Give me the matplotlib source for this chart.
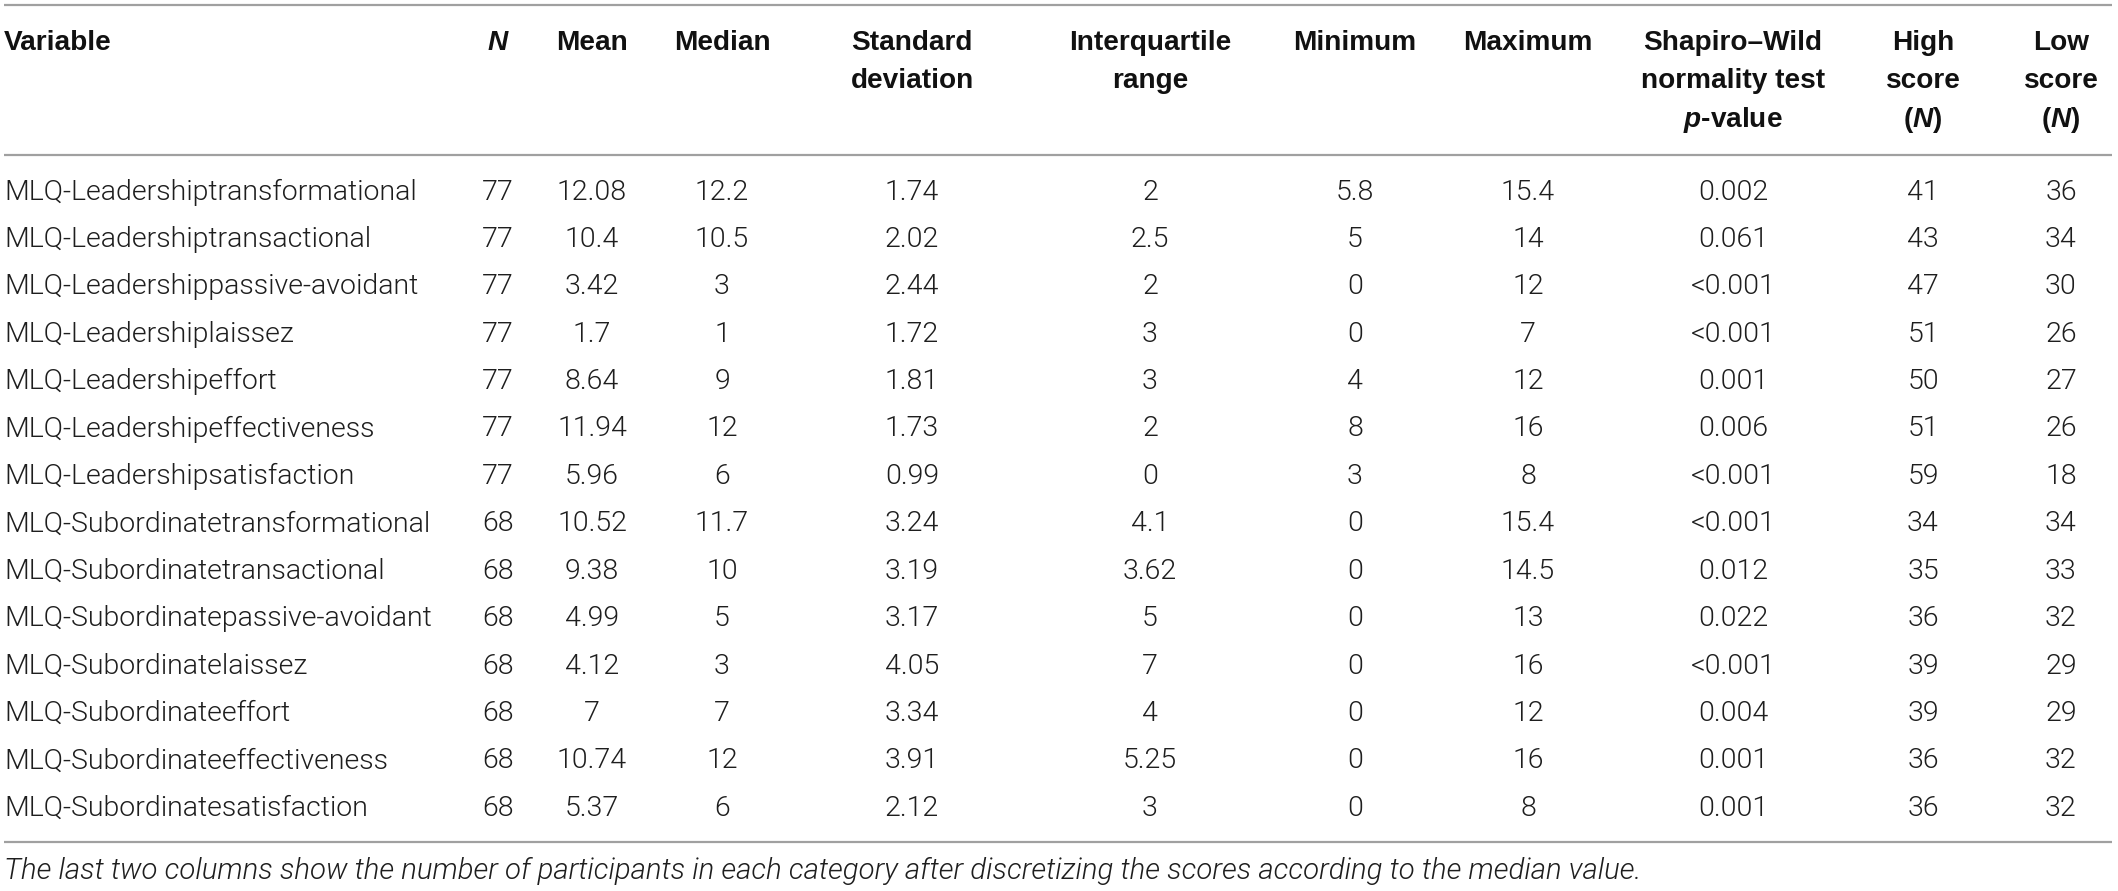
import matplotlib
matplotlib.use("Agg")
import matplotlib.pyplot as plt
from matplotlib import font_manager

names = {f.name for f in font_manager.fontManager.ttflist}
BODY = "Roboto" if "Roboto" in names else "Liberation Sans"
HEAD = "Liberation Sans"
plt.rcParams["font.family"] = [HEAD, "DejaVu Sans"]
plt.rcParams["mathtext.fontset"] = "custom"
plt.rcParams["mathtext.it"] = HEAD + ":italic:bold"
plt.rcParams["mathtext.rm"] = HEAD + ":bold"

# data
variables = [
    "MLQ-Leadershiptransformational", "MLQ-Leadershiptransactional",
    "MLQ-Leadershippassive-avoidant", "MLQ-Leadershiplaissez",
    "MLQ-Leadershipeffort", "MLQ-Leadershipeffectiveness",
    "MLQ-Leadershipsatisfaction", "MLQ-Subordinatetransformational",
    "MLQ-Subordinatetransactional", "MLQ-Subordinatepassive-avoidant",
    "MLQ-Subordinatelaissez", "MLQ-Subordinateeffort",
    "MLQ-Subordinateeffectiveness", "MLQ-Subordinatesatisfaction",
]
n = ["77"] * 7 + ["68"] * 7
mean = ["12.08", "10.4", "3.42", "1.7", "8.64", "11.94", "5.96",
        "10.52", "9.38", "4.99", "4.12", "7", "10.74", "5.37"]
median = ["12.2", "10.5", "3", "1", "9", "12", "6",
          "11.7", "10", "5", "3", "7", "12", "6"]
sd = ["1.74", "2.02", "2.44", "1.72", "1.81", "1.73", "0.99",
      "3.24", "3.19", "3.17", "4.05", "3.34", "3.91", "2.12"]
iqr = ["2", "2.5", "2", "3", "3", "2", "0",
       "4.1", "3.62", "5", "7", "4", "5.25", "3"]
minimum = ["5.8", "5", "0", "0", "4", "8", "3",
           "0", "0", "0", "0", "0", "0", "0"]
maximum = ["15.4", "14", "12", "7", "12", "16", "8",
           "15.4", "14.5", "13", "16", "12", "16", "8"]
shapiro = ["0.002", "0.061", "<0.001", "<0.001", "0.001", "0.006", "<0.001",
           "<0.001", "0.012", "0.022", "<0.001", "0.004", "0.001", "0.001"]
high = ["41", "43", "47", "51", "50", "51", "59",
        "34", "35", "36", "39", "39", "36", "36"]
low = ["36", "34", "30", "26", "27", "26", "18",
       "34", "33", "32", "29", "29", "32", "32"]

headers = [
    ["Variable"], ["$N$"], ["Mean"], ["Median"],
    ["Standard", "deviation"], ["Interquartile", "range"],
    ["Minimum"], ["Maximum"],
    ["Shapiro\u2013Wild", "normality test", "$p$-value"],
    ["High", "score", "($N$)"], ["Low", "score", "($N$)"],
]
footnote = ("The last two columns show the number of participants in each "
            "category after discretizing the scores according to the median value.")

columns = [n, mean, median, sd, iqr, minimum, maximum, shapiro, high, low]
col_x = [498, 592, 722, 912, 1150, 1355, 1528, 1733, 1923, 2061]

W, H = 2118, 891
fig = plt.figure(figsize=(W / 100, H / 100), dpi=100)
ax = fig.add_axes([0, 0, 1, 1])
ax.set_xlim(0, W)
ax.set_ylim(H, 0)
ax.axis("off")

# horizontal rules
line_col = "#a0a0a0"
for y in (5, 155, 842):
    ax.plot([4, 2112], [y, y], color=line_col, lw=1.6, solid_capstyle="butt")

# header
for j, lines in enumerate(headers):
    x = 4 if j == 0 else col_x[j - 1]
    ha = "left" if j == 0 else "center"
    for k, t in enumerate(lines):
        ax.text(x, 43 + k * 38.5, t, ha=ha, va="center", fontsize=20.2,
                fontweight="bold", color="#111111")

# body
body = dict(family=[BODY, "DejaVu Sans"], fontweight=300,
            color="#1e1e1e", va="center")
row_y0, row_dy = 192, 47.4
for i, name in enumerate(variables):
    y = row_y0 + i * row_dy
    ax.text(4, y, name, ha="left", fontsize=20.5, **body)
    for col, x in zip(columns, col_x):
        ax.text(x, y, col[i], ha="center", fontsize=20.5, **body)

# footnote
ax.text(4, 871, footnote, ha="left", style="italic", fontsize=21.2, **body)

fig.savefig("out.png", dpi=100)
